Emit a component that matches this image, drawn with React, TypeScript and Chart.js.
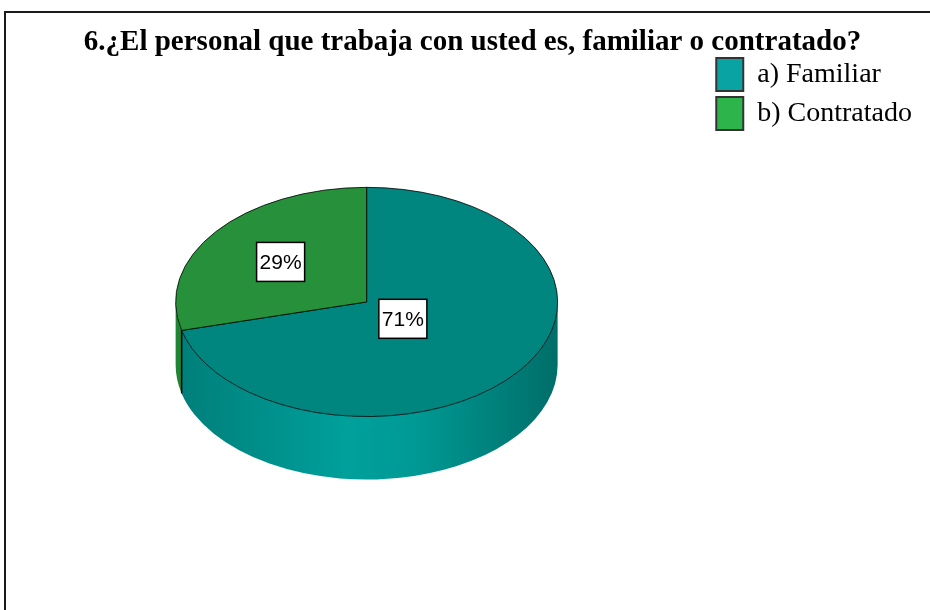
import React, { useEffect, useRef } from "react";
import { Chart, registerables } from "chart.js";

Chart.register(...registerables);

// ---- data ----
const titleText = "6.¿El personal que trabaja con usted es, familiar o contratado?";
const categories = ["a) Familiar", "b) Contratado"];
const percentages = [71, 29];
const percentLabels = ["71%", "29%"];

// ---- styles ----
const topColors = ["#00857f", "#26913a"];
const sideStops = [
  ["#007e79", "#00a09b", "#009a95", "#006e69"],
  ["#1f8533", "#2a9a3e", "#27933a", "#1c7a2d"],
];
const legendColors = ["#0aa3a3", "#2db54b"];
const TILT = 0.6;
const DEPTH = 0.33;
const labelRadii = [0.24, 0.57];
const SERIF = "'Liberation Serif', 'Times New Roman', serif";
const SANS = "'Liberation Sans', Arial, sans-serif";

const pie3d = {
  id: "pie3d",
  beforeDraw(chart: any) {
    const ctx = chart.ctx;
    ctx.save();
    ctx.fillStyle = "#ffffff";
    ctx.fillRect(0, 0, chart.width, chart.height);
    ctx.strokeStyle = "#1a1a1a";
    ctx.lineWidth = 2;
    ctx.strokeRect(5, 12, chart.width + 40, chart.height + 40);
    ctx.restore();
  },
  beforeDatasetsDraw(chart: any) {
    const ctx = chart.ctx;
    const arcs = chart.getDatasetMeta(0).data;
    ctx.save();
    if (!arcs.length) return;
    const { x, y, outerRadius: r } = arcs[0].getProps(["x", "y", "outerRadius"], true);
    const ry = r * TILT;
    const d = r * DEPTH;
    arcs.forEach((arc: any, i: number) => {
      const { startAngle, endAngle } = arc.getProps(["startAngle", "endAngle"], true);
      for (const k of [-1, 0, 1]) {
        const lo = Math.max(startAngle, 2 * Math.PI * k);
        const hi = Math.min(endAngle, 2 * Math.PI * k + Math.PI);
        if (hi <= lo) continue;
        const grad = ctx.createLinearGradient(x - r, 0, x + r, 0);
        const st = sideStops[i];
        grad.addColorStop(0, st[0]);
        grad.addColorStop(0.45, st[1]);
        grad.addColorStop(0.62, st[2]);
        grad.addColorStop(1, st[3]);
        ctx.beginPath();
        ctx.ellipse(x, y, r, ry, 0, lo, hi, false);
        ctx.lineTo(x + r * Math.cos(hi), y + ry * Math.sin(hi) + d);
        ctx.ellipse(x, y + d, r, ry, 0, hi, lo, true);
        ctx.closePath();
        ctx.fillStyle = grad;
        ctx.fill();
      }
      const s = ((startAngle % (2 * Math.PI)) + 2 * Math.PI) % (2 * Math.PI);
      if (s > 0.01 && s < Math.PI - 0.01) {
        const bx = x + r * Math.cos(s);
        const by = y + ry * Math.sin(s);
        ctx.beginPath();
        ctx.moveTo(bx, by);
        ctx.lineTo(bx, by + d);
        ctx.strokeStyle = "#000";
        ctx.lineWidth = 1.5;
        ctx.stroke();
      }
    });
    ctx.translate(0, y);
    ctx.scale(1, TILT);
    ctx.translate(0, -y);
  },
  afterDatasetsDraw(chart: any) {
    const ctx = chart.ctx;
    ctx.restore();
    const arcs = chart.getDatasetMeta(0).data;
    ctx.save();
    ctx.font = `21px ${SANS}`;
    ctx.textAlign = "center";
    ctx.textBaseline = "middle";
    arcs.forEach((arc: any, i: number) => {
      const { x, y, outerRadius: r, startAngle, endAngle } = arc.getProps(
        ["x", "y", "outerRadius", "startAngle", "endAngle"],
        true
      );
      const mid = (startAngle + endAngle) / 2;
      const lr = labelRadii[i] * r;
      const px = x + lr * Math.cos(mid);
      const py = y + TILT * lr * Math.sin(mid);
      const txt = percentLabels[i];
      const w = ctx.measureText(txt).width + 6;
      const h = 39;
      ctx.fillStyle = "#fff";
      ctx.fillRect(px - w / 2, py - h / 2, w, h);
      ctx.strokeStyle = "#000";
      ctx.lineWidth = 1.5;
      ctx.strokeRect(px - w / 2, py - h / 2, w, h);
      ctx.fillStyle = "#000";
      ctx.fillText(txt, px, py + 1);
    });
    ctx.restore();
  },
};

export default function App() {
  const ref = useRef<HTMLCanvasElement | null>(null);
  useEffect(() => {
    if (!ref.current) return;
    const chart = new Chart(ref.current, {
      type: "pie",
      data: {
        labels: categories,
        datasets: [
          {
            data: percentages,
            backgroundColor: topColors,
            borderColor: "#000",
            borderWidth: 1,
            radius: 191,
          } as any,
        ],
      },
      options: {
        responsive: false,
        animation: false,
        events: [],
        layout: { padding: { left: 23, right: 8, top: 0, bottom: 58 } },
        plugins: {
          title: {
            display: true,
            text: titleText,
            color: "#000",
            font: { family: SERIF, size: 29, weight: "bold", lineHeight: 1.1 },
            padding: { top: 27, bottom: -7 },
          },
          legend: {
            position: "right",
            align: "start",
            fullSize: false,
            labels: {
              boxWidth: 27,
              boxHeight: 33,
              padding: 6,
              color: "#000",
              font: { family: SERIF, size: 28 },
              generateLabels: () =>
                categories.map((c, i) => ({
                  text: c,
                  fillStyle: legendColors[i],
                  strokeStyle: "#333",
                  lineWidth: 2,
                  hidden: false,
                  index: i,
                  datasetIndex: 0,
                })),
            },
          },
          tooltip: { enabled: false },
        },
      } as any,
      plugins: [pie3d],
    });
    return () => chart.destroy();
  }, []);
  return (
    <div style={{ position: "absolute", left: 0, top: 0, width: 930, height: 610 }}>
      <canvas ref={ref} width={930} height={610} style={{ display: "block" }} />
    </div>
  );
}
